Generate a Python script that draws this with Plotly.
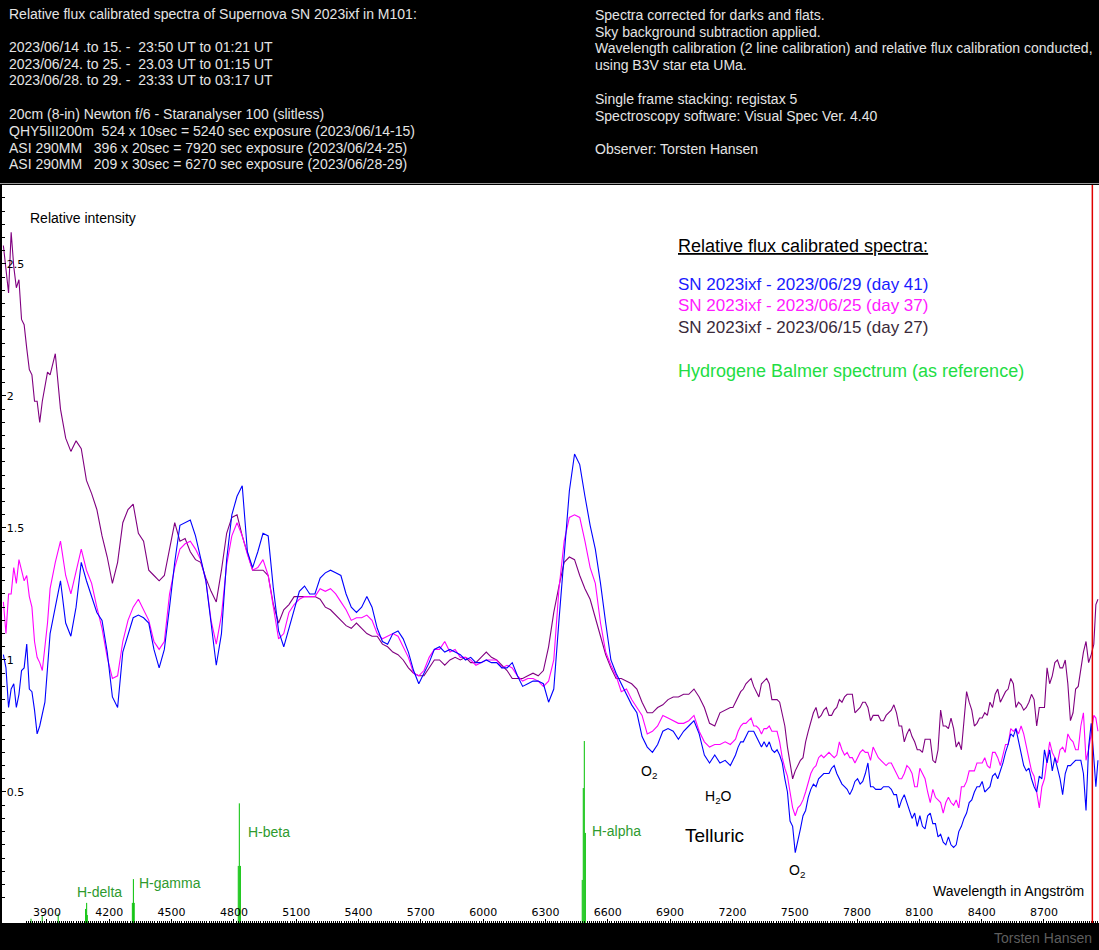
import plotly.graph_objects as go

# ---------------- data ----------------
# main sampling: every 25 Angstrom
wavelength = list(range(3690, 8941, 25)) + [8960]
# extra samples in the noisy blue and red ends (half-way points)
wavelength_fine = [3702.5 + 25 * i for i in range(9)] + \
                  [7202.5 + 25 * i for i in range(70)] + [8950]

day41 = [  # SN 2023ixf - 2023/06/29 (blue)
    1.02, 0.82, 0.91, 0.87, 0.97, 0.89, 0.81, 0.75, 0.84, 1.10,
    1.20, 1.30, 1.14, 1.09, 1.20, 1.37, 1.30, 1.24, 1.18, 1.15,
    1.03, 0.86, 0.82, 1.03, 1.10, 1.16, 1.17, 1.16, 1.14, 1.04,
    0.97, 1.04, 1.20, 1.37, 1.51, 1.52, 1.53, 1.47, 1.39, 1.30,
    1.14, 0.98, 1.10, 1.38, 1.55, 1.62, 1.66, 1.41, 1.35, 1.41,
    1.48, 1.47, 1.27, 1.11, 1.05, 1.12, 1.20, 1.26, 1.28, 1.25,
    1.25, 1.31, 1.33, 1.34, 1.33, 1.32, 1.25, 1.20, 1.18, 1.20,
    1.24,
    1.20, 1.12, 1.07, 1.06, 1.10, 1.11, 1.08, 1.03, 0.96, 0.91,
    0.95, 0.99, 1.04, 1.05, 1.03, 1.04, 1.03, 1.02, 1.00, 1.01,
    0.99, 0.99, 1.00, 0.99, 0.99, 0.97, 0.97, 0.99, 0.94, 0.90,
    0.91, 0.92, 0.92, 0.91, 0.84, 0.89, 1.15, 1.40, 1.64, 1.78,
    1.74, 1.62, 1.51, 1.42, 1.29, 1.14, 1.00, 0.95, 0.91, 0.87,
    0.83, 0.80, 0.71, 0.67, 0.65, 0.68, 0.73, 0.74, 0.73, 0.70,
    0.73, 0.75, 0.77, 0.72, 0.64, 0.61, 0.64, 0.61, 0.62, 0.60,
    0.64, 0.69, 0.71, 0.73, 0.71, 0.67, 0.67, 0.66, 0.66, 0.61,
    0.50, 0.37, 0.31, 0.41, 0.48, 0.53, 0.55, 0.57, 0.57, 0.60,
    0.55, 0.52, 0.49, 0.54, 0.53, 0.57, 0.52, 0.51, 0.51, 0.52,
    0.51, 0.49, 0.47, 0.46, 0.40, 0.37, 0.37, 0.41, 0.38, 0.33,
    0.31, 0.33, 0.29, 0.35, 0.40, 0.46, 0.50, 0.52, 0.50, 0.52,
    0.57, 0.58, 0.65, 0.72, 0.74, 0.65, 0.58, 0.55, 0.50, 0.55,
    0.61, 0.58, 0.59, 0.49, 0.60, 0.61, 0.62, 0.57, 0.67, 0.63,
    0.62,
]
day41_fine = [
    0.97, 0.89, 0.82, 0.96, 1.06, 0.88, 0.72, 0.79, 0.97,
    0.62, 0.67, 0.69, 0.73, 0.73, 0.69, 0.69, 0.69, 0.65, 0.64,
    0.55, 0.39, 0.27, 0.36, 0.43, 0.51, 0.52, 0.56, 0.57, 0.59,
    0.57, 0.53, 0.51, 0.51, 0.55, 0.54, 0.61, 0.52, 0.51, 0.52,
    0.52, 0.49, 0.44, 0.49, 0.43, 0.42, 0.41, 0.36, 0.42, 0.38,
    0.34, 0.30, 0.30, 0.30, 0.37, 0.42, 0.47, 0.52, 0.54, 0.51,
    0.56, 0.55, 0.61, 0.68, 0.71, 0.69, 0.60, 0.59, 0.52, 0.56,
    0.66, 0.66, 0.63, 0.55, 0.57, 0.60, 0.62, 0.62, 0.43, 0.76,
    0.52,
]

day37 = [  # SN 2023ixf - 2023/06/25 (magenta)
    1.22, 1.25, 1.35, 1.38, 1.30, 1.24, 1.07, 0.99, 1.04, 1.27,
    1.37, 1.45, 1.32, 1.25, 1.33, 1.42, 1.34, 1.29, 1.20, 1.12,
    1.01, 0.93, 0.94, 1.07, 1.15, 1.20, 1.23, 1.19, 1.15, 1.07,
    1.04, 1.07, 1.25, 1.35, 1.42, 1.44, 1.45, 1.42, 1.38, 1.30,
    1.15, 1.06, 1.17, 1.36, 1.47, 1.52, 1.47, 1.40, 1.34, 1.35,
    1.38, 1.32, 1.20, 1.08, 1.10, 1.18, 1.21, 1.23, 1.24, 1.24,
    1.24, 1.27, 1.26, 1.27, 1.25, 1.22, 1.19, 1.15, 1.16, 1.16,
    1.17,
    1.15, 1.10, 1.08, 1.09, 1.10, 1.09, 1.05, 1.01, 0.95, 0.94,
    0.96, 1.01, 1.04, 1.04, 1.07, 1.03, 1.04, 1.01, 1.01, 1.00,
    0.98, 0.99, 1.00, 1.00, 1.00, 0.97, 0.98, 0.97, 0.94, 0.92,
    0.93, 0.93, 0.92, 0.90, 0.92, 1.00, 1.27, 1.45, 1.54, 1.55,
    1.54, 1.45, 1.35, 1.29, 1.14, 1.03, 0.98, 0.94, 0.88, 0.89,
    0.85, 0.82, 0.79, 0.72, 0.73, 0.75, 0.79, 0.78, 0.77, 0.76,
    0.76, 0.77, 0.79, 0.73, 0.69, 0.67, 0.68, 0.68, 0.69, 0.68,
    0.70, 0.75, 0.76, 0.78, 0.75, 0.72, 0.74, 0.73, 0.73, 0.63,
    0.56, 0.44, 0.44, 0.47, 0.54, 0.59, 0.63, 0.63, 0.65, 0.63,
    0.69, 0.64, 0.63, 0.61, 0.65, 0.65, 0.62, 0.65, 0.62, 0.60,
    0.61, 0.57, 0.55, 0.60, 0.57, 0.52, 0.57, 0.50, 0.51, 0.47,
    0.42, 0.48, 0.45, 0.44, 0.52, 0.58, 0.58, 0.61, 0.63, 0.59,
    0.65, 0.60, 0.68, 0.74, 0.74, 0.75, 0.67, 0.58, 0.49, 0.52,
    0.62, 0.65, 0.61, 0.67, 0.72, 0.69, 0.66, 0.80, 0.66, 0.79,
    0.73,
]
day37_fine = [
    1.10, 1.25, 1.29, 1.34, 1.32, 1.20, 1.01, 0.96, 1.14,
    0.69, 0.73, 0.76, 0.77, 0.75, 0.74, 0.74, 0.75, 0.73, 0.69,
    0.59, 0.50, 0.41, 0.45, 0.50, 0.57, 0.60, 0.64, 0.64, 0.64,
    0.64, 0.66, 0.65, 0.63, 0.63, 0.66, 0.65, 0.67, 0.63, 0.61,
    0.61, 0.59, 0.55, 0.57, 0.59, 0.52, 0.59, 0.55, 0.46, 0.48,
    0.46, 0.46, 0.46, 0.47, 0.52, 0.54, 0.58, 0.61, 0.61, 0.60,
    0.65, 0.63, 0.64, 0.68, 0.73, 0.72, 0.72, 0.63, 0.56, 0.44,
    0.55, 0.69, 0.63, 0.66, 0.65, 0.70, 0.66, 0.75, 0.62, 0.72,
    0.78,
]

day27 = [  # SN 2023ixf - 2023/06/15 (purple)
    2.57, 2.39, 2.49, 2.44, 2.27, 2.10, 1.98, 1.90, 2.03, 2.08,
    2.16, 1.95, 1.84, 1.79, 1.83, 1.80, 1.68, 1.63, 1.57, 1.47,
    1.39, 1.29, 1.37, 1.52, 1.57, 1.59, 1.48, 1.45, 1.34, 1.32,
    1.30, 1.32, 1.42, 1.52, 1.45, 1.46, 1.41, 1.38, 1.37, 1.31,
    1.26, 1.22, 1.34, 1.48, 1.54, 1.55, 1.47, 1.40, 1.34, 1.34,
    1.34, 1.32, 1.21, 1.14, 1.19, 1.21, 1.24, 1.24, 1.24, 1.24,
    1.24, 1.23, 1.20, 1.19, 1.17, 1.15, 1.13, 1.12, 1.14, 1.12,
    1.10,
    1.09, 1.09, 1.06, 1.05, 1.03, 1.02, 1.00, 0.97, 0.95, 0.94,
    0.94, 0.97, 1.00, 1.00, 0.98, 1.00, 1.01, 1.00, 1.01, 0.99,
    0.99, 1.01, 1.03, 1.01, 1.00, 0.98, 0.96, 0.93, 0.93, 0.93,
    0.94, 0.95, 0.94, 0.96, 1.05, 1.18, 1.28, 1.37, 1.39, 1.38,
    1.32, 1.27, 1.23, 1.16, 1.08, 1.02, 0.97, 0.93, 0.93, 0.92,
    0.91, 0.89, 0.84, 0.80, 0.80, 0.82, 0.83, 0.85, 0.86, 0.86,
    0.87, 0.87, 0.89, 0.86, 0.82, 0.76, 0.75, 0.80, 0.81, 0.82,
    0.84, 0.88, 0.91, 0.93, 0.88, 0.91, 0.93, 0.85, 0.85, 0.80,
    0.67, 0.55, 0.60, 0.63, 0.73, 0.80, 0.78, 0.81, 0.79, 0.81,
    0.85, 0.86, 0.87, 0.80, 0.82, 0.84, 0.77, 0.79, 0.77, 0.79,
    0.81, 0.80, 0.75, 0.72, 0.71, 0.66, 0.65, 0.70, 0.62, 0.66,
    0.75, 0.74, 0.74, 0.69, 0.77, 0.84, 0.75, 0.78, 0.80, 0.84,
    0.87, 0.84, 0.88, 0.93, 0.82, 0.83, 0.82, 0.87, 0.75, 0.82,
    0.97, 0.94, 1.00, 0.97, 0.91, 0.80, 0.90, 1.03, 0.99, 1.06,
    1.23,
]
day27_fine = [
    2.47, 2.62, 2.41, 2.29, 2.18, 2.08, 1.98, 1.98, 2.09,
    0.82, 0.86, 0.89, 0.92, 0.90, 0.86, 0.92, 0.91, 0.85, 0.84,
    0.75, 0.61, 0.58, 0.62, 0.69, 0.77, 0.82, 0.79, 0.82, 0.79,
    0.82, 0.84, 0.87, 0.87, 0.81, 0.84, 0.82, 0.79, 0.79, 0.77,
    0.80, 0.83, 0.75, 0.69, 0.74, 0.69, 0.66, 0.70, 0.70, 0.61,
    0.81, 0.75, 0.78, 0.67, 0.66, 0.88, 0.81, 0.76, 0.78, 0.79,
    0.82, 0.89, 0.86, 0.89, 0.91, 0.84, 0.81, 0.84, 0.85, 0.82,
    0.82, 0.91, 0.99, 0.97, 1.00, 0.77, 0.89, 0.97, 1.07, 1.02,
    1.21,
]

# Hydrogen Balmer reference lines (as drawn in the picture)
balmer_wl = [3823, 3877, 3954, 4086, 4091, 4094, 4311, 4316, 4320,
             4821, 4826, 4831, 6477, 6482, 6487, 6492]
balmer_height = [0.02, 0.03, 0.04, 0.057, 0.08, 0.034, 0.08, 0.17, 0.08,
                 0.22, 0.457, 0.22, 0.167, 0.515, 0.693, 0.345]

balmer_labels = ["H-delta", "H-gamma", "H-beta", "H-alpha"]
balmer_label_wl = [4155, 4490, 4969, 6642]
balmer_label_y = [0.121, 0.155, 0.348, 0.352]

x_ticks = list(range(3900, 8701, 300))
y_ticks = [0.5, 1, 1.5, 2, 2.5]
y_ticktext = ["0.5", "1", "1.5", "2", "2.5"]

cutoff_wl = 8933


def merged(main, fine):
    pts = sorted(list(zip(wavelength, main)) + list(zip(wavelength_fine, fine)))
    return [p[0] for p in pts], [p[1] for p in pts]


# ---------------- figure ----------------
W, H = 1099, 950
L, R, T, B = 2, 0, 185, 27
PW, PH = W - L - R, H - T - B


def xp(px):
    return (px - L) / PW


def yp(py):
    return (H - B - py) / PH


FONT = "Liberation Sans, Arial, sans-serif"
fig = go.Figure()

# Balmer lines
bx, by = [], []
for w, h in zip(balmer_wl, balmer_height):
    bx += [w, w, None]
    by += [0, h, None]
fig.add_trace(go.Scatter(x=bx, y=by, mode="lines",
                         line=dict(color="#00c000", width=1),
                         hoverinfo="skip", showlegend=False))

for name, main, fine, color in [("day 27", day27, day27_fine, "#800080"),
                                ("day 37", day37, day37_fine, "#ff00ff"),
                                ("day 41", day41, day41_fine, "#0000ff")]:
    xs, ys = merged(main, fine)
    fig.add_trace(go.Scatter(x=xs, y=ys, mode="lines", name=name,
                             line=dict(color=color, width=1.1),
                             showlegend=False))

annotations = []


def add_text(text, x, y, size, color, xref="x", yref="y", xanchor="left",
             yanchor="middle", family=FONT):
    annotations.append(dict(text=text, x=x, y=y, xref=xref, yref=yref,
                            xanchor=xanchor, yanchor=yanchor, showarrow=False,
                            font=dict(family=family, size=size, color=color),
                            borderpad=0))


NB = "\u00a0"
left_header = [
    (14, "Relative flux calibrated spectra of Supernova SN 2023ixf in M101:"),
    (47, f"2023/06/14 .to 15. -{NB} 23:50 UT to 01:21 UT"),
    (63.5, f"2023/06/24. to 25. -{NB} 23.03 UT to 01:15 UT"),
    (80, f"2023/06/28. to 29. -{NB} 23:33 UT to 03:17 UT"),
    (114, "20cm (8-in) Newton f/6 - Staranalyser 100 (slitless)"),
    (131, f"QHY5III200m{NB} 524 x 10sec = 5240 sec exposure (2023/06/14-15)"),
    (147.5, f"ASI 290MM{NB}{NB} 396 x 20sec = 7920 sec exposure (2023/06/24-25)"),
    (164, f"ASI 290MM{NB}{NB} 209 x 30sec = 6270 sec exposure (2023/06/28-29)"),
]
right_header = [
    (15, "Spectra corrected for darks and flats."),
    (31.7, "Sky background subtraction applied."),
    (48.3, "Wavelength calibration (2 line calibration) and relative flux calibration conducted,"),
    (65, "using B3V star eta UMa."),
    (99, "Single frame stacking: registax 5"),
    (115.7, "Spectroscopy software: Visual Spec Ver. 4.40"),
    (149, "Observer: Torsten Hansen"),
]
for py, t in left_header:
    add_text(t, xp(7.5), yp(py), 14, "#e4e4e4", xref="paper", yref="paper")
for py, t in right_header:
    add_text(t, xp(593.5), yp(py), 14, "#e4e4e4", xref="paper", yref="paper")

add_text("Torsten Hansen", xp(1093), yp(938), 14, "#5e5e5e",
         xref="paper", yref="paper", xanchor="right")

# In-plot labels
add_text("Relative intensity", 3813, 2.674, 14, "#000000")
add_text("Wavelength in Angström", 8898, 0.125, 14, "#000000", xanchor="right")

add_text("<u>Relative flux calibrated spectra:</u>", 6932, 2.568, 18, "#000000")
add_text("SN 2023ixf - 2023/06/29 (day 41)", 6932, 2.424, 17, "#1a1aff")
add_text("SN 2023ixf - 2023/06/25 (day 37)", 6932, 2.341, 17, "#ff1aff")
add_text("SN 2023ixf - 2023/06/15 (day 27)", 6932, 2.258, 17, "#3a2a3a")
add_text("Hydrogene Balmer spectrum (as reference)", 6932, 2.095, 18, "#22dd44")

for t, w, v in zip(balmer_labels, balmer_label_wl, balmer_label_y):
    add_text(t, w, v, 14, "#2e9a2e", xanchor="center")

add_text("O<sub>2</sub>", 6798, 0.576, 14, "#000000", xanchor="center")
add_text("H<sub>2</sub>O", 7135, 0.48, 14, "#000000", xanchor="center")
add_text("Telluric", 7116, 0.337, 19, "#000000", xanchor="center")
add_text("O<sub>2</sub>", 7510, 0.20, 14, "#000000", xanchor="center")

shapes = [
    # grey separator under the header
    dict(type="line", xref="paper", yref="paper", x0=xp(0), x1=xp(W),
         y0=yp(183.5), y1=yp(183.5), line=dict(color="#9a9a9a", width=1)),
    # red marker line at right
    dict(type="line", xref="x", yref="paper", x0=cutoff_wl, x1=cutoff_wl,
         y0=0, y1=1, line=dict(color="#e00000", width=1.5)),
]

fig.update_layout(
    width=W, height=H,
    margin=dict(l=L, r=R, t=T, b=B, pad=0),
    paper_bgcolor="#000000",
    plot_bgcolor="#ffffff",
    showlegend=False,
    annotations=annotations,
    shapes=shapes,
    hovermode=False,
)

fig.update_xaxes(
    range=[3683.4, 8965.0], showgrid=False, zeroline=False, showline=False,
    tickmode="array", tickvals=x_ticks, ticktext=[str(v) for v in x_ticks],
    ticks="inside", ticklen=4, tickcolor="#000000", tickwidth=1,
    ticklabelposition="inside",
    tickfont=dict(family="DejaVu Sans, Verdana, sans-serif", size=11, color="#000000"),
    minor=dict(ticks="inside", tick0=3700, dtick=10, ticklen=2,
               tickcolor="#000000", tickwidth=1, showgrid=False),
    automargin=False, fixedrange=True,
)
fig.update_yaxes(
    range=[0.0038, 2.799], showgrid=False, zeroline=False, showline=False,
    tickmode="array", tickvals=y_ticks, ticktext=y_ticktext,
    ticks="inside", ticklen=4, tickcolor="#000000", tickwidth=1,
    ticklabelposition="inside",
    tickfont=dict(family="DejaVu Sans, Verdana, sans-serif", size=11, color="#000000"),
    minor=dict(ticks="inside", tick0=0, dtick=0.05, ticklen=3,
               tickcolor="#000000", tickwidth=1, showgrid=False),
    automargin=False, fixedrange=True,
)

fig.write_html("out.html", config={"displayModeBar": False})
